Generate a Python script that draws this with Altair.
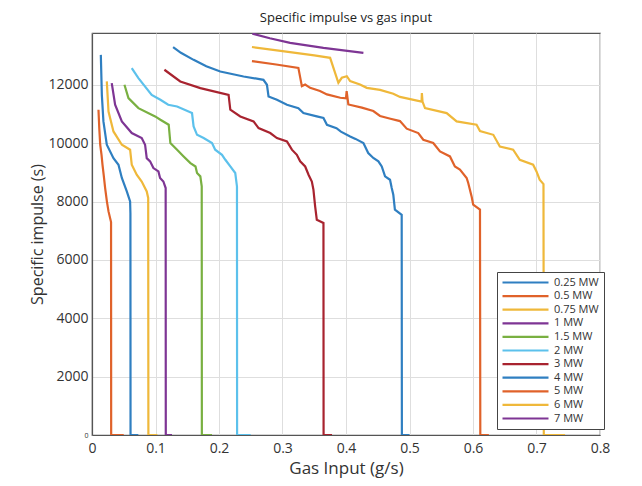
import altair as alt
import pandas as pd

SERIES = ["0.25 MW", "0.5 MW", "0.75 MW", "1 MW", "1.5 MW", "2 MW", "3 MW", "4 MW", "5 MW", "6 MW", "7 MW"]
COLORS = ["#2f7fc1", "#e0622a", "#efb83a", "#7e3594", "#79b041", "#5cc1ec", "#a8232f",
          "#2f7fc1", "#e0622a", "#efb83a", "#7e3594"]

X_025 = [0.0139, 0.0155, 0.018, 0.0233, 0.0338, 0.0417, 0.047, 0.0548, 0.060, 0.0605, 0.0607, 0.073]
Y_025 = [13030, 11660, 10750, 9950, 9490, 9265, 8810, 8350, 8010, 7600, 0, 0]

X_05 = [0.0102, 0.0115, 0.0129, 0.015, 0.0165, 0.0185, 0.0207, 0.0235, 0.026, 0.030, 0.0302, 0.050]
Y_05 = [11150, 10500, 9950, 9600, 9265, 8900, 8465, 8000, 7665, 7300, 0, 0]

X_075 = [0.0233, 0.026, 0.0338, 0.047, 0.060, 0.0626, 0.0704, 0.0783, 0.0862, 0.0885, 0.0888, 0.103]
Y_075 = [12120, 11090, 10405, 9950, 9780, 9265, 8920, 8690, 8350, 8125, 0, 0]

X_1 = [0.0311, 0.0364, 0.047, 0.0626, 0.0783, 0.0836, 0.0862, 0.0915, 0.0967, 0.1046, 0.1072,
       0.1124, 0.116, 0.1162, 0.126]
Y_1 = [12060, 11320, 10750, 10350, 10180, 9950, 9490, 9380, 9150, 9035, 8810, 8690, 8465, 0, 0]

X_15 = [0.0511, 0.0574, 0.0731, 0.0994, 0.1077, 0.1208, 0.1234, 0.134, 0.1443, 0.155, 0.163,
        0.1654, 0.1706, 0.1728, 0.173, 0.189]
Y_15 = [12005, 11550, 11205, 10920, 10805, 10635, 10010, 9780, 9550, 9320, 9205, 8980, 8865, 8520, 0, 0]

X_2 = [0.0626, 0.0731, 0.094, 0.1077, 0.120, 0.134, 0.1575, 0.160, 0.1654, 0.1758, 0.189, 0.194,
       0.2047, 0.21, 0.2178, 0.2256, 0.2283, 0.2285, 0.250]
Y_2 = [12575, 12235, 11660, 11490, 11320, 11260, 11035, 10575, 10290, 10180, 10010, 9780,
       9605, 9435, 9205, 8980, 8520, 0, 0]

X_3 = [0.114, 0.139, 0.1706, 0.2151, 0.2178, 0.2335, 0.2544, 0.2623, 0.2807, 0.2912, 0.307,
       0.3148, 0.3226, 0.3278, 0.3357, 0.341, 0.3462, 0.3487, 0.3514, 0.354, 0.3645, 0.3647, 0.378]
Y_3 = [12520, 12120, 11890, 11660, 11150, 10920, 10750, 10520, 10350, 10180, 10060, 9780,
       9605, 9380, 9205, 8920, 8690, 8410, 7835, 7380, 7270, 0, 0]

X_4 = [0.1277, 0.14, 0.160, 0.18, 0.202, 0.2387, 0.270, 0.2755, 0.278, 0.2912, 0.307, 0.325,
       0.333, 0.354, 0.3645, 0.37, 0.385, 0.392, 0.4065, 0.415, 0.4274, 0.435, 0.443, 0.451,
       0.4563, 0.4615, 0.4693, 0.472, 0.4745, 0.477, 0.4877, 0.488, 0.500]
Y_4 = [13295, 13100, 12860, 12640, 12460, 12290, 12175, 12005, 11605, 11490, 11320, 11205,
       11035, 10920, 10865, 10635, 10520, 10400, 10235, 10150, 10010, 9665, 9495, 9380,
       9205, 8865, 8750, 8465, 8235, 7725, 7550, 0, 0]

X_5 = [0.2519, 0.29, 0.325, 0.3305, 0.3357, 0.3435, 0.359, 0.37, 0.391, 0.400, 0.401, 0.4037,
       0.425, 0.443, 0.4536, 0.47, 0.485, 0.4956, 0.5138, 0.5217, 0.5374, 0.548, 0.5637, 0.5715,
       0.5794, 0.59, 0.5925, 0.5978, 0.6003, 0.611, 0.6115, 0.625]
Y_5 = [12815, 12700, 12585, 11960, 12015, 11900, 11790, 11675, 11560, 11540, 11790, 11330,
       11220, 11105, 10935, 10840, 10760, 10500, 10350, 10120, 10010, 9720, 9550, 9205,
       9095, 8810, 8640, 8180, 7895, 7725, 0, 0]

X_6 = [0.2519, 0.30, 0.35, 0.375, 0.388, 0.3934, 0.4013, 0.4065, 0.422, 0.4327, 0.4536, 0.4745,
       0.485, 0.519, 0.5195, 0.5205, 0.5244, 0.5585, 0.5742, 0.6056, 0.611, 0.632, 0.6423,
       0.6632, 0.6737, 0.6947, 0.700, 0.705, 0.711, 0.7115, 0.745]
Y_6 = [13300, 13160, 13010, 12930, 12075, 12245, 12300, 12130, 12015, 11900, 11830, 11700,
       11590, 11430, 11720, 11430, 11205, 11035, 10750, 10635, 10420, 10290, 9890,
       9780, 9435, 9265, 9035, 8750, 8600, 0, 0]

X_7 = [0.2525, 0.28, 0.312, 0.3645, 0.4274]
Y_7 = [13760, 13600, 13440, 13270, 13100]

ALL_X = [X_025, X_05, X_075, X_1, X_15, X_2, X_3, X_4, X_5, X_6, X_7]
ALL_Y = [Y_025, Y_05, Y_075, Y_1, Y_15, Y_2, Y_3, Y_4, Y_5, Y_6, Y_7]

rows = []
for name, xs, ys in zip(SERIES, ALL_X, ALL_Y):
    for i, (xv, yv) in enumerate(zip(xs, ys)):
        rows.append({"series": name, "x": xv, "y": yv, "i": i})
df = pd.DataFrame(rows)

FONT = "Open Sans"

chart = alt.Chart(df).mark_line(strokeWidth=2.2, clip=True).encode(
    x=alt.X("x:Q", scale=alt.Scale(domain=[0, 0.8], nice=False),
            axis=alt.Axis(title="Gas Input (g/s)", values=[0, 0.1, 0.2, 0.3, 0.4, 0.5, 0.6, 0.7, 0.8],
                          format="~g", ticks=False, labelPadding=6, labelFontSize=14,
                          titleFontSize=17, titleFontWeight="normal", titlePadding=5,
                          labelFlush=False)),
    y=alt.Y("y:Q", scale=alt.Scale(domain=[0, 13780], nice=False),
            axis=alt.Axis(title="Specific impulse (s)", values=[0, 2000, 4000, 6000, 8000, 10000, 12000],
                          format="d", ticks=False, labelPadding=4,
                          labelFontSize=alt.ExprRef(expr="datum.value == 0 ? 7 : 14"),
                          titleFontSize=16, titleFontWeight="normal", titlePadding=2,
                          labelFlush=False)),
    color=alt.Color("series:N", sort=SERIES,
                    scale=alt.Scale(domain=SERIES, range=COLORS),
                    legend=alt.Legend(title=None, orient="none", legendX=405, legendY=239,
                                      symbolType="M-2,0H9.5", symbolSize=64, symbolStrokeWidth=2.2,
                                      symbolOffset=3, labelOffset=38,
                                      labelFontSize=11, labelFont=FONT, labelColor="#333333",
                                      strokeColor="#444444", fillColor="white", padding=5,
                                      rowPadding=1.6, labelLimit=80)),
    order="i:Q",
    detail="series:N",
).properties(
    width=508,
    height=402,
    title=alt.Title("Specific impulse vs gas input", fontSize=13, fontWeight="normal",
                    font=FONT, color="#222222", offset=8),
    autosize=alt.AutoSizeParams(type="none"),
    padding={"left": 84, "top": 25, "right": 26, "bottom": 43},
).configure_axis(
    labelFont=FONT, titleFont=FONT, labelColor="#333333", titleColor="#333333",
    gridColor="#dedede", gridWidth=1, domainColor="#555555", domainWidth=1.2,
).configure_view(
    stroke="#555555", strokeWidth=1.2
)

chart.save("out.html", embed_options={"renderer": "svg", "actions": False})
